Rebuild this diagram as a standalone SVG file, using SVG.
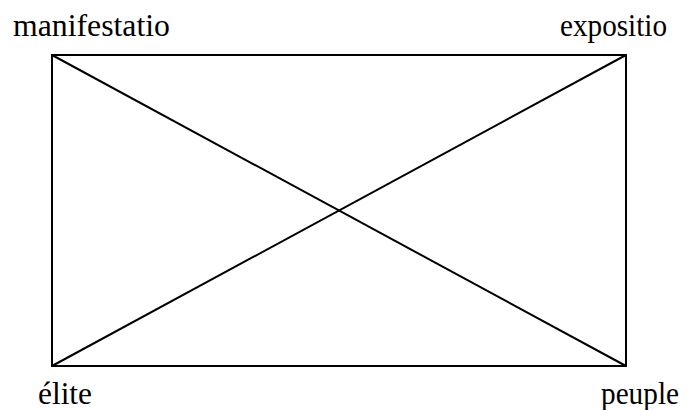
<svg xmlns="http://www.w3.org/2000/svg" width="687" height="410" viewBox="0 0 687 410">
<style>
text{font-family:'Liberation Serif','Times New Roman',serif;font-size:31px;fill:#000}
.ln{stroke:#000;stroke-width:2;fill:none}
</style>
<rect width="687" height="410" fill="#fff"/>
<g id="connectors">
<rect class="ln" x="52" y="55" width="574" height="311"/>
<line class="ln" x1="52" y1="55" x2="626" y2="366"/>
<line class="ln" x1="626" y1="55" x2="52" y2="366"/>
</g>
<g id="manifestatio"><text x="13" y="36" textLength="157" lengthAdjust="spacingAndGlyphs">manifestatio</text></g>
<g id="expositio"><text x="560" y="36" textLength="107" lengthAdjust="spacingAndGlyphs">expositio</text></g>
<g id="elite"><text x="38" y="404" textLength="54" lengthAdjust="spacingAndGlyphs">élite</text></g>
<g id="peuple"><text x="601" y="404" textLength="78" lengthAdjust="spacingAndGlyphs">peuple</text></g>
</svg>
